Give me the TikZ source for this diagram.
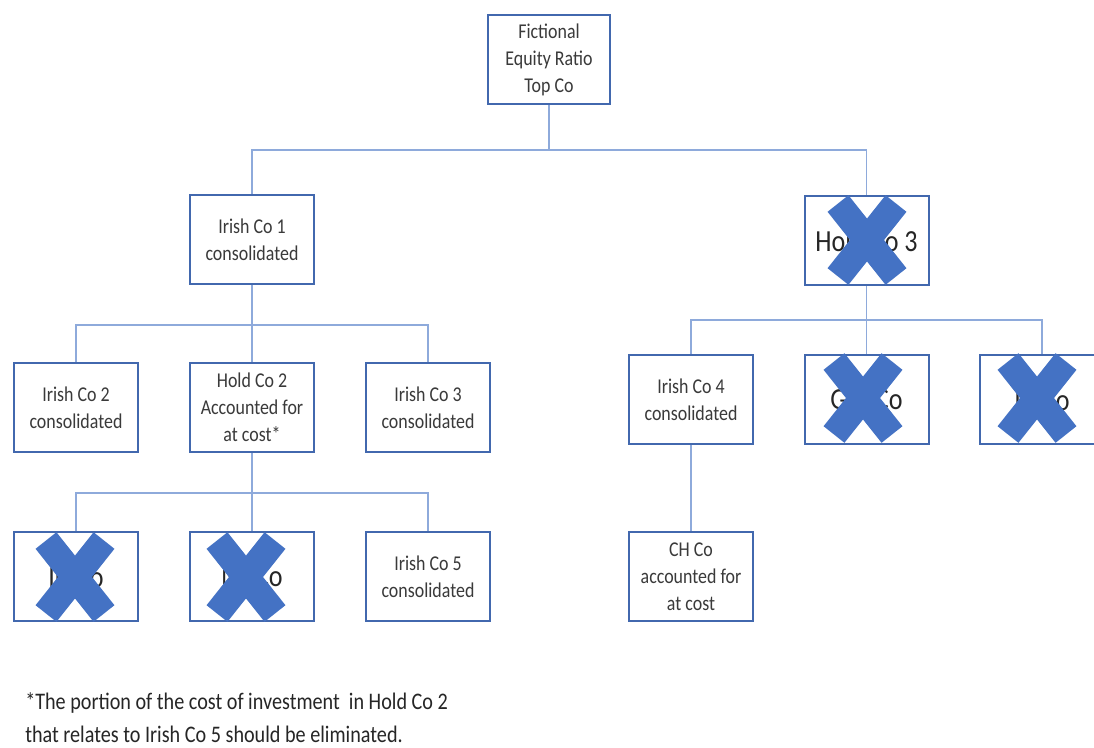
\documentclass[tikz,border=0pt]{standalone}
\usepackage{fontspec}
\setmainfont{Carlito}[FakeStretch=0.85]
\definecolor{boxc}{HTML}{4268AE}
\definecolor{linec}{HTML}{8EAADB}
\definecolor{crossc}{HTML}{4472C4}
\definecolor{txtc}{HTML}{3A3A3A}
\tikzset{
  orgbox/.style={draw=boxc, line width=1.5pt, fill=white, minimum width=93pt, minimum height=66.75pt, inner sep=1pt, align=center, text=txtc, font=\fontsize{15.8}{20.25}\selectfont},
  bigbox/.style={orgbox, text=black!85, font=\fontsize{23}{26}\selectfont},
  conn/.style={draw=linec, line width=1.2pt},
  xarm/.style={draw=crossc, line width=20pt, line cap=butt},
}
\newcommand{\xmark}[1]{%
  \draw[xarm] ($(#1)+(-29,-36.5)$) -- ($(#1)+(29,36.5)$);
  \draw[xarm] ($(#1)+(29,-36.5)$) -- ($(#1)+(-29,36.5)$);}
\usetikzlibrary{calc}
\begin{document}
\begin{tikzpicture}[x=0.75pt,y=-0.75pt]
\useasboundingbox (0,0) rectangle (1094,747);
\fill[white] (0,0) rectangle (1094,747);
% coordinates
\coordinate (bus1) at (549,150);
\coordinate (bus2) at (252,325);
\coordinate (bus3) at (867,320);
\coordinate (bus4) at (252,493);
% boxes
\node[orgbox, minimum width=91.5pt] (top) at (549,59.5) {Fictional\\Equity Ratio\\Top Co};
\node[orgbox] (ic1) at (252,239.5) {Irish Co 1\\consolidated};
\node[bigbox] (hc3) at (866.5,240.5) {Hold Co 3};
\node[orgbox] (ic2) at (76,407.5) {Irish Co 2\\consolidated};
\node[orgbox] (hc2) at (252,407.5) {Hold Co 2\\Accounted for\\at cost*};
\node[orgbox] (ic3) at (428,407.5) {Irish Co 3\\consolidated};
\node[orgbox] (ic4) at (691,399.5) {Irish Co 4\\consolidated};
\node[bigbox] (gco) at (866.5,399.5) {Ger Co};
\node[bigbox] (rco) at (1042,399.5) {Irl Co};
\node[bigbox] (l3a) at (76,576.5) {Irl Co};
\node[bigbox] (l3b) at (252,576.5) {NL Co};
\node[orgbox] (ic5) at (428,576.5) {Irish Co 5\\consolidated};
\node[orgbox] (ch) at (691,576.5) {CH Co\\accounted for\\at cost};
% connectors
\draw[conn] (top.south) -- (bus1);
\draw[conn] (ic1.north) |- (bus1) -| (hc3.north);
\draw[conn] (ic1.south) -- (hc2.north);
\draw[conn] (ic2.north) |- (bus2) -| (ic3.north);
\draw[conn] (hc3.south) -- (gco.north);
\draw[conn] (ic4.north) |- (bus3) -| (rco.north);
\draw[conn] (hc2.south) -- (l3b.north);
\draw[conn] (l3a.north) |- (bus4) -| (ic5.north);
\draw[conn] (ic4.south) -- (ch.north);
% crosses
\xmark{867,240}
\xmark{863,398}
\xmark{1037,398}
\xmark{75,577}
\xmark{246,577}
% footnote
\node[anchor=north west, align=left, inner sep=0pt, text=black!85, font=\fontsize{17.8}{24.75}\selectfont] (note) at (25,692) {*The portion of the cost of investment\ \ in Hold Co 2\\that relates to Irish Co 5 should be eliminated.};
\end{tikzpicture}
\end{document}
